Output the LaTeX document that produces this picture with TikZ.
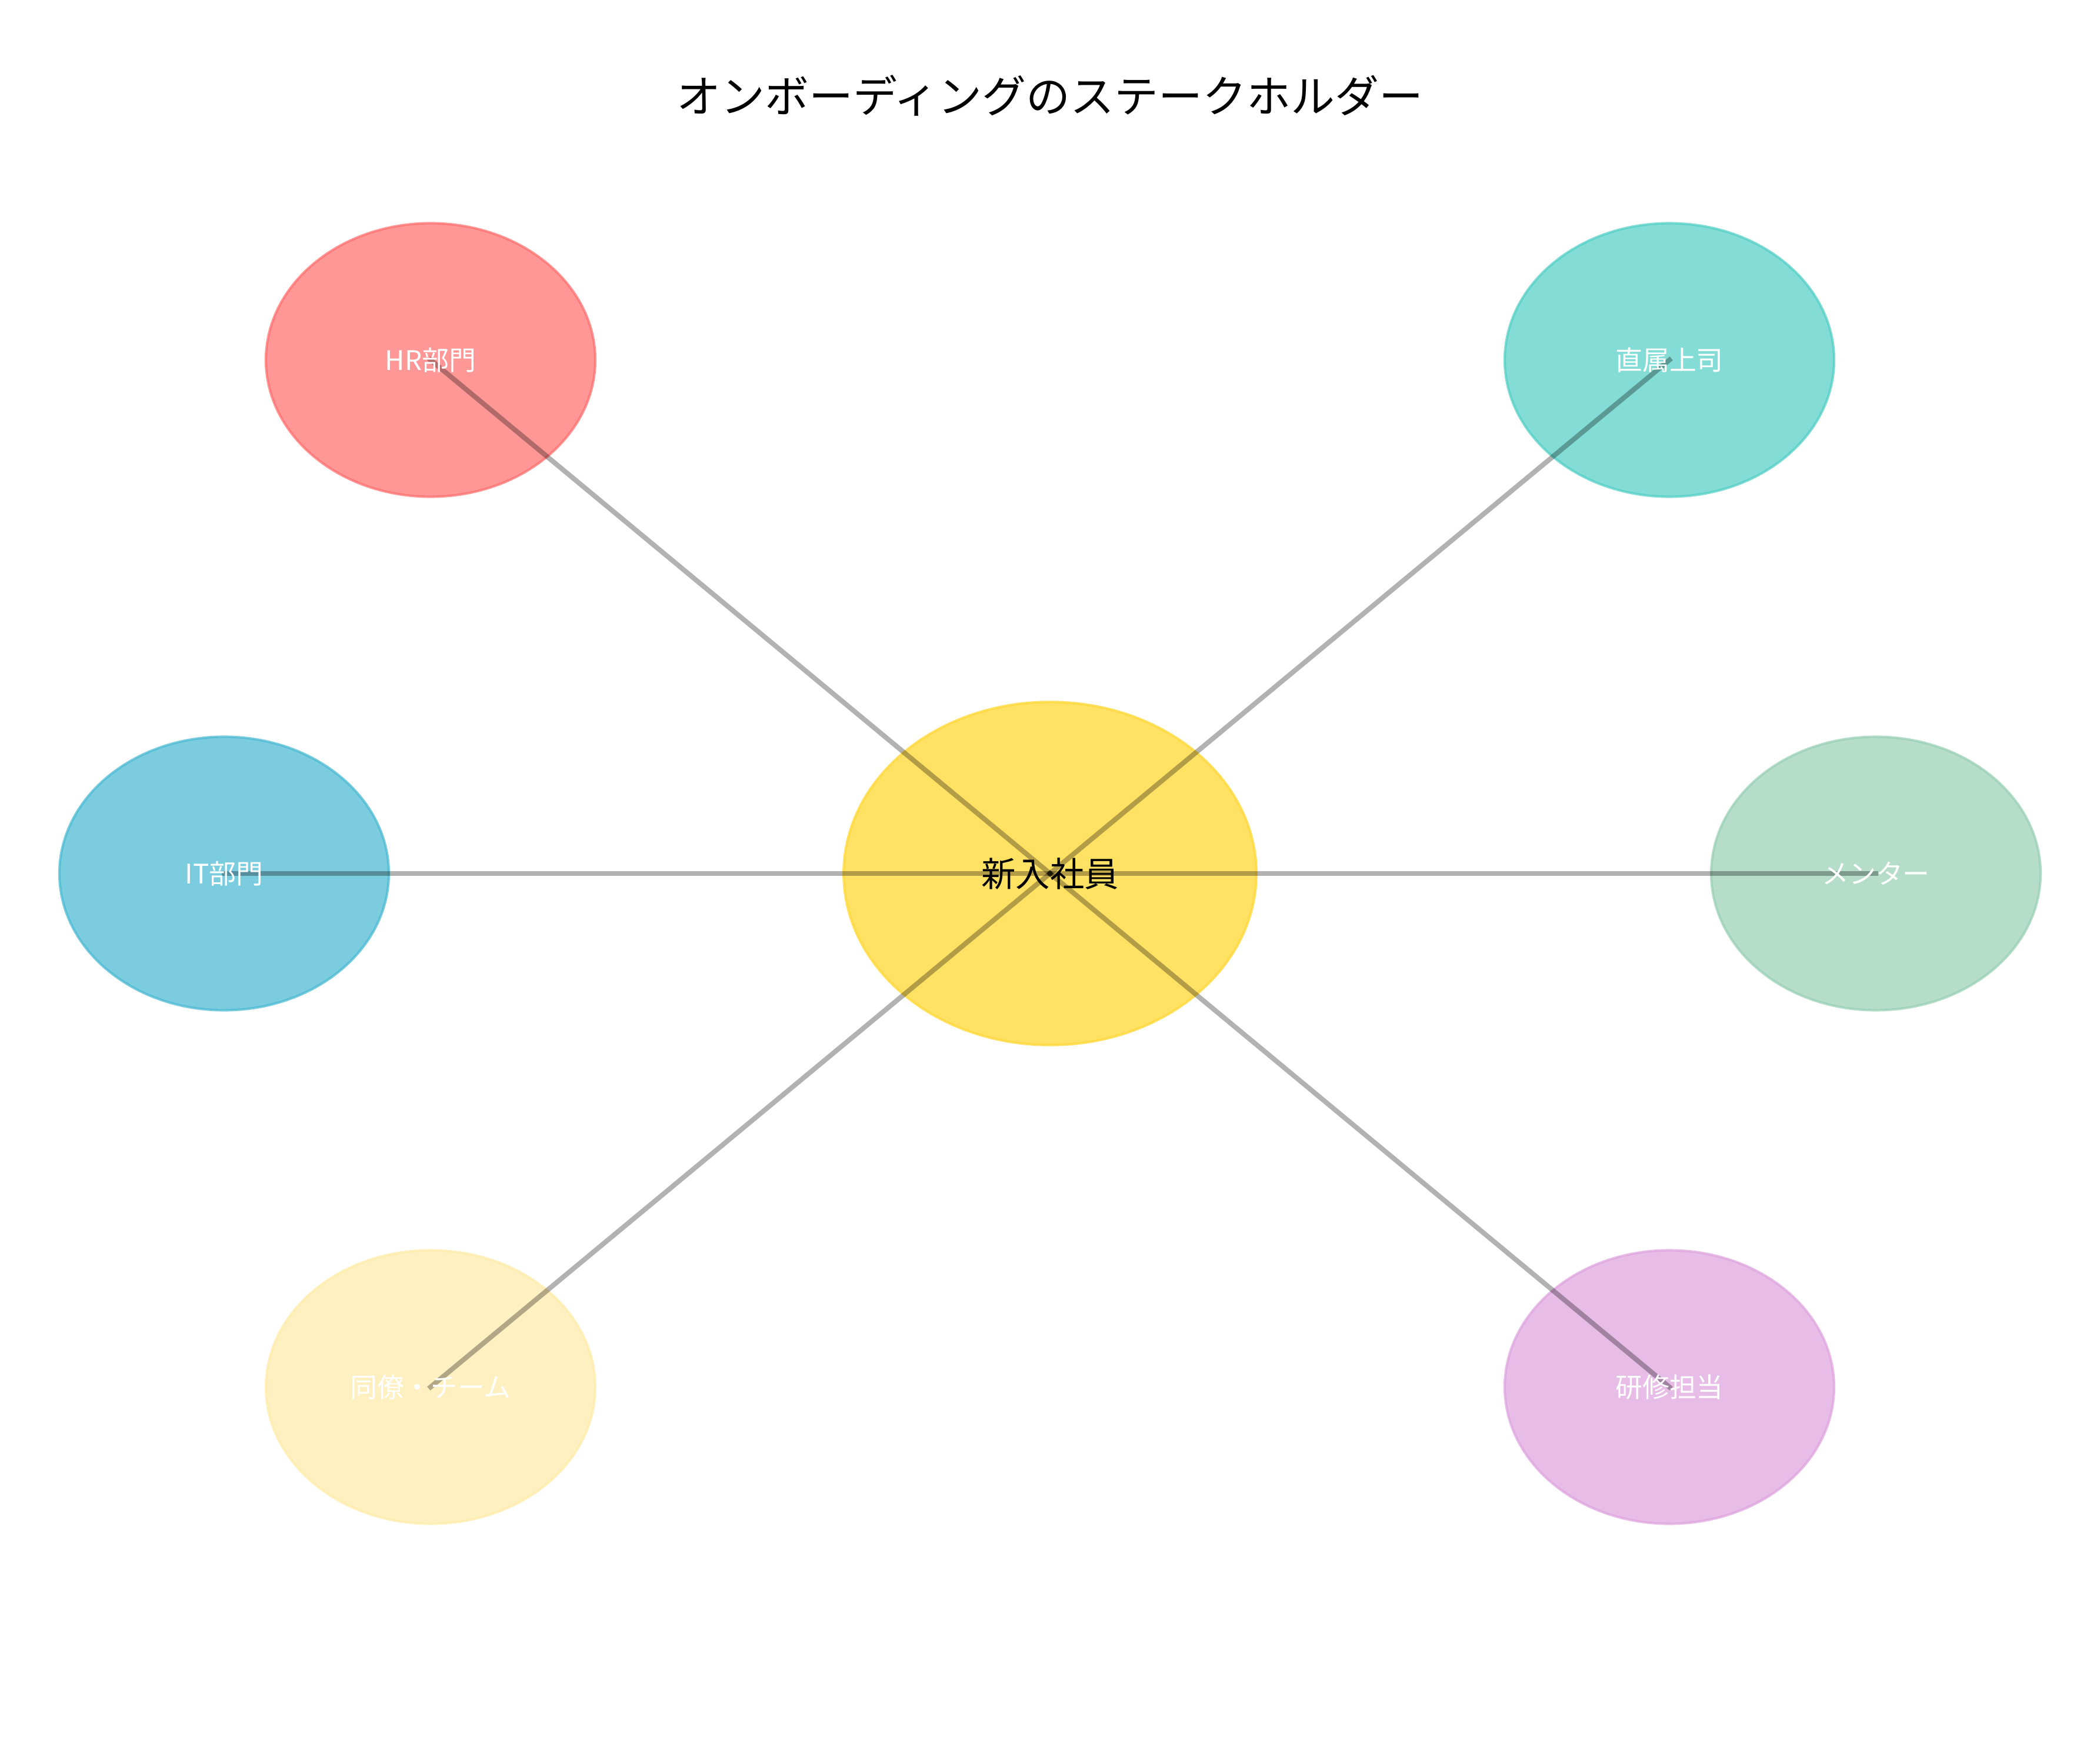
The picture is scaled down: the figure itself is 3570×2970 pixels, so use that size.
\documentclass[tikz,border=0pt]{standalone}
\usepackage{fontspec}
\setmainfont{Noto Sans CJK JP}
\usetikzlibrary{shapes.geometric}
\definecolor{hrred}{HTML}{FF6B6B}
\definecolor{bossteal}{HTML}{4ECDC4}
\definecolor{itblue}{HTML}{45B7D1}
\definecolor{mentorgreen}{HTML}{96CEB4}
\definecolor{peeryellow}{HTML}{FFEAA7}
\definecolor{trainerplum}{HTML}{DDA0DD}
\definecolor{hireyellow}{HTML}{FFD93D}
\begin{document}
\begin{tikzpicture}[x=0.24pt,y=-0.24pt,stakeholder/.style={shape=ellipse,draw=#1,fill=#1,opacity=0.7,line width=1pt,inner sep=0pt,minimum width=134.4pt,minimum height=111.6pt},newhire/.style={shape=ellipse,draw=hireyellow,fill=hireyellow,opacity=0.8,line width=1pt,inner sep=0pt,minimum width=168.4pt,minimum height=140pt},tie/.style={draw=black,opacity=0.3,line width=2pt,line cap=rect},tag/.style={text=white,font=\fontsize{11}{13}\selectfont},hiretag/.style={text=black,font=\fontsize{14}{17}\selectfont},heading/.style={text=black,font=\fontsize{18}{22}\selectfont}]
\useasboundingbox (0,0) rectangle (3570,2970);
\node[heading] (title) at (1785,162) {オンボーディングのステークホルダー};
\node[newhire] (hire) at (1785,1485) {};
\node[stakeholder=hrred] (hr) at (732,612) {};
\node[stakeholder=bossteal] (boss) at (2838,612) {};
\node[stakeholder=itblue] (it) at (381,1485) {};
\node[stakeholder=mentorgreen] (mentor) at (3189,1485) {};
\node[stakeholder=peeryellow] (peers) at (732,2358) {};
\node[stakeholder=trainerplum] (trainer) at (2838,2358) {};
\draw[tie] (hire.center) -- (hr.center);
\draw[tie] (hire.center) -- (boss.center);
\draw[tie] (hire.center) -- (it.center);
\draw[tie] (hire.center) -- (mentor.center);
\draw[tie] (hire.center) -- (peers.center);
\draw[tie] (hire.center) -- (trainer.center);
\node[hiretag] (hire-tag) at (hire) {新入社員};
\node[tag] (hr-tag) at (hr) {HR部門};
\node[tag] (boss-tag) at (boss) {直属上司};
\node[tag] (it-tag) at (it) {IT部門};
\node[tag] (mentor-tag) at (mentor) {メンター};
\node[tag] (peers-tag) at (peers) {同僚・チーム};
\node[tag] (trainer-tag) at (trainer) {研修担当};
\end{tikzpicture}
\end{document}
